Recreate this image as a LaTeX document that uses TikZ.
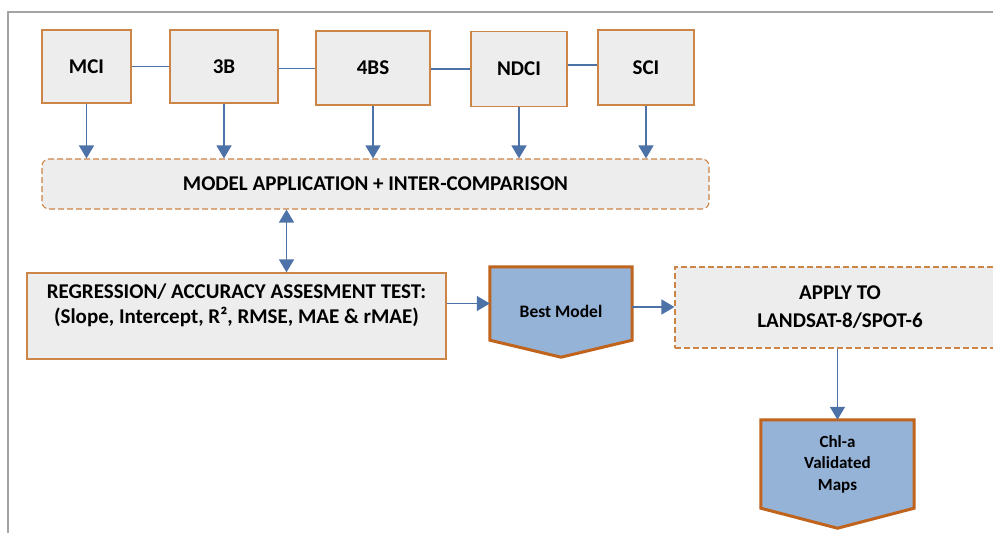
\documentclass[tikz,border=0pt]{standalone}
\usepackage{fontspec}
\setmainfont{Carlito}
\usetikzlibrary{arrows.meta}

\definecolor{boxline}{HTML}{CC8447}
\definecolor{pentline}{HTML}{C0631C}
\definecolor{boxfill}{HTML}{EDEDED}
\definecolor{pentfill}{HTML}{95B3D7}
\definecolor{linkblue}{HTML}{4D72A8}
\definecolor{framegray}{HTML}{A3A3A3}

\pgfdeclarelayer{back}
\pgfsetlayers{back,main}

\tikzset{
  idxbox/.style={draw=boxline, fill=boxfill, line width=1.3pt, inner sep=0pt},
  softbox/.style={draw=boxline, fill=boxfill, line width=1.1pt, dash pattern=on 6pt off 3pt, inner sep=0pt},
  pentbox/.style={draw=pentline, fill=pentfill, line width=3pt, line join=miter},
  link/.style={draw=linkblue, line width=1.4pt},
  flow/.style={link, -{Triangle[length=13pt,width=15pt]}},
  both/.style={link, {Triangle[length=13pt,width=15pt]}-{Triangle[length=13pt,width=15pt]}},
}

\begin{document}
\begin{tikzpicture}[x=1pt,y=-1pt, font=\bfseries\fontsize{21}{25}\selectfont]
	\clip (0,0) rectangle (993,533);
	\draw[framegray, line width=2.5pt] (8,533) -- (8,12) -- (993,12);

	% index boxes
	\node[idxbox, minimum width=89pt, minimum height=73pt] (mci) at (86.5,66.5) {MCI};
	\node[idxbox, minimum width=108pt, minimum height=73pt] (threeb) at (224,66.5) {3B};
	\node[idxbox, minimum width=114pt, minimum height=74pt] (fourbs) at (373,68) {4BS};
	\node[idxbox, minimum width=96pt, minimum height=75pt] (ndci) at (519,69) {NDCI};
	\node[idxbox, minimum width=96pt, minimum height=75pt] (sci) at (646,67.5) {SCI};

	\node[softbox, rounded corners=7pt, minimum width=667pt, minimum height=50pt] (modapp) at (375.5,184) {MODEL APPLICATION + INTER-COMPARISON};

	\node[idxbox, minimum width=419pt, minimum height=86pt,
		label={[yshift=10.5pt, align=center, font=\bfseries\fontsize{21}{25.5}\selectfont]center:{REGRESSION/ ACCURACY ASSESMENT TEST:\\(Slope, Intercept, R², RMSE, MAE \& rMAE)}}] (regr) at (236.5,316) {};
	\node[softbox, minimum width=330pt, minimum height=81pt,
		label={[align=center, font=\bfseries\fontsize{21}{28}\selectfont]center:{APPLY TO\\LANDSAT-8/SPOT-6}}] (apply) at (840,307.5) {};

	% pentagons
	\node[minimum width=142pt, minimum height=73pt, inner sep=0pt,
		label={[yshift=-7.5pt, font=\bfseries\fontsize{17.5}{21}\selectfont]center:Best Model}] (best) at (561,303.5) {};
	\node[minimum width=153pt, minimum height=88pt, inner sep=0pt,
		label={[align=center, font=\bfseries\fontsize{17}{21.5}\selectfont]center:{Chl-a\\Validated\\Maps}}] (chla) at (837.5,464) {};
	\begin{pgfonlayer}{back}
		\draw[pentbox] (best.north west) -- (best.north east) -- (best.south east) -- ([yshift=-17pt]best.south) -- (best.south west) -- cycle;
		\draw[pentbox] (chla.north west) -- (chla.north east) -- (chla.south east) -- ([yshift=-20pt]chla.south) -- (chla.south west) -- cycle;
	\end{pgfonlayer}

	% connectors
	\draw[link] (mci.east) -- (mci.east -| threeb.west);
	\draw[link] ([yshift=-2pt]threeb.east) -- ([yshift=-2pt]threeb.east -| fourbs.west);
	\draw[link] ([yshift=-1pt]fourbs.east) -- ([yshift=-1pt]fourbs.east -| ndci.west);
	\draw[link] ([yshift=4pt]ndci.east) -- ([yshift=4pt]ndci.east -| sci.west);

	\foreach \src in {mci,threeb,fourbs,ndci,sci}
		\draw[flow] (\src.south) -- (\src.south |- modapp.north);

	\draw[both] ([xshift=50pt]regr.north |- modapp.south) -- ([xshift=50pt]regr.north);
	\draw[flow] (best.west -| regr.east) -- (best.west);
	\draw[flow] ([yshift=-3.5pt]best.east) -- ([yshift=-3.5pt]best.east -| apply.west);
	\draw[flow] (apply.south -| chla.north) -- (chla.north);
\end{tikzpicture}
\end{document}
